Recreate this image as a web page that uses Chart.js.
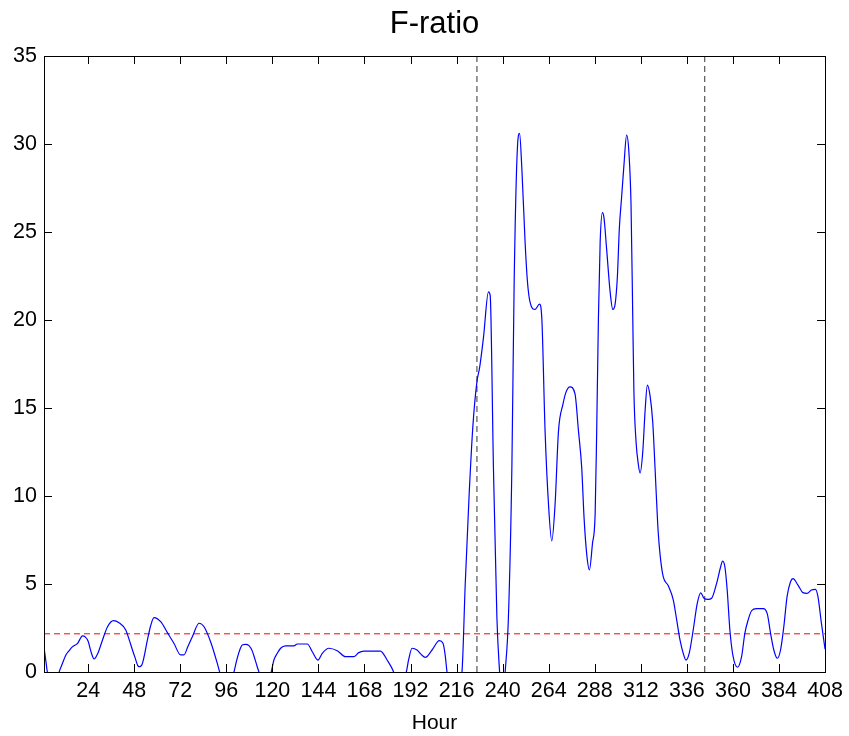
<!DOCTYPE html>
<html>
<head>
<meta charset="utf-8">
<title>F-ratio</title>
<script src="https://cdn.jsdelivr.net/npm/chart.js@4.4.0/dist/chart.umd.min.js"></script>
<style>
  html, body { margin: 0; padding: 0; background: #fff; }
  #wrap { width: 849px; height: 736px; }
</style>
</head>
<body>
<div id="wrap"><canvas id="fChart" width="849" height="736"></canvas></div>
<script>
// Hora (eje x) y valor F
const hours = [
    1, 2, 3, 6, 8.9, 10.5, 12.4, 14, 15.9, 18.5, 21.1, 22.4, 24, 25.5, 27.1, 29, 31.5, 34.1, 37.2, 40.1,
    43.6, 45.5, 47.1, 48.5, 50, 51, 52.3, 54.9, 56.5, 58.3, 61.8, 65.3, 68.7, 72.2, 73.9, 76, 78.3, 81.8, 84.4, 87.8,
    91.3, 92.5, 95, 98, 100, 101.5, 103.4, 104.5, 106, 107.8, 109.5, 111, 112.1, 113, 115.5, 118, 119.4, 120.8, 122.5, 124.3,
    126.9, 131.2, 133, 138.2, 140.8, 143.7, 146, 149.4, 153.8, 158.1, 162.4, 165, 167.6, 176.3, 179.8, 183.2, 186, 189.8, 191, 192.8,
    195.4, 197.5, 199.7, 203.2, 207, 208.9, 210, 211, 214, 218.8, 220.5, 222.5, 224.5, 226.6, 228, 230, 232.6, 233.5, 235.2, 237,
    238.4, 239.8, 241.3, 243, 244.8, 246, 247.7, 248.8, 250, 251.7, 252.9, 254.3, 256.9, 259.2, 260.4, 262.1, 263.9, 265.6, 267.3, 269.1,
    271.4, 273, 275.1, 277.7, 279.5, 281.2, 282.4, 283.8, 285.2, 286.8, 288.2, 289, 289.9, 290.8, 292, 292.8, 294.2, 296, 297.4, 298.6,
    299.8, 300.8, 302, 303.2, 304.6, 305.8, 306.9, 307.8, 308.4, 309.5, 310.7, 311.6, 313, 314.2, 315.4, 316.8, 318.2, 319.4, 320.8, 322,
    323.7, 326.3, 328.9, 330.7, 332.4, 334.1, 335.5, 337.2, 339.3, 341.4, 343.2, 344.9, 347.1, 348.9, 351.5, 353.6, 354.6, 355.8, 357, 358.4,
    360.1, 362.4, 364.5, 366.2, 367.9, 369.7, 372.3, 375.8, 377.9, 379.6, 381.3, 383.1, 384.8, 386.5, 388.2, 390, 391.3, 393.9, 396.5, 398.6,
    400.9, 403, 404.3, 406.1, 408
];
const fRatio = [
    1.4, 0.6, -0.2, -1.5, 0, 0.45, 0.97, 1.2, 1.44, 1.63, 2.05, 2.0, 1.75, 1.15, 0.74, 1.05, 1.82, 2.57, 2.92, 2.8,
    2.39, 1.8, 1.25, 0.8, 0.34, 0.3, 0.49, 1.82, 2.6, 3.09, 2.86, 2.24, 1.63, 0.97, 0.97, 1.45, 2.0, 2.77, 2.57, 1.72,
    0.49, 0, -1.2, -0.8, 0, 0.7, 1.36, 1.55, 1.57, 1.5, 1.2, 0.7, 0.3, 0, -1, -0.5, 0, 0.68, 1.05, 1.35,
    1.48, 1.49, 1.59, 1.59, 1.15, 0.68, 1.06, 1.35, 1.21, 0.87, 0.87, 1.1, 1.19, 1.19, 0.68, 0, -1, 0, 0.7, 1.35,
    1.25, 1.0, 0.83, 1.25, 1.78, 1.63, 1.0, 0, -2, 0, 5, 10, 14, 16.5, 17.3, 19.0, 21.6, 21.4, 11.6, 3.1,
    0, -2, 0, 3.1, 11.6, 22.2, 29.8, 30.6, 28.6, 24.4, 22.2, 21.0, 20.6, 20.9, 20.1, 13.7, 9.5, 7.45, 9.5, 13.7,
    15.2, 15.9, 16.2, 15.8, 13.7, 11.6, 8.8, 6.7, 5.8, 7.3, 9.0, 13.7, 20.1, 24.4, 26.1, 25.8, 24.0, 21.6, 20.6, 20.9,
    22.5, 25.2, 27.0, 28.8, 30.5, 29.5, 26.5, 20.1, 15.9, 13.1, 11.8, 11.3, 12.5, 14.8, 16.3, 15.7, 14.2, 11.6, 8.4, 6.7,
    5.4, 4.9, 4.1, 2.95, 1.82, 1.06, 0.68, 1.06, 2.39, 3.9, 4.5, 4.19, 4.13, 4.19, 5.04, 5.98, 6.3, 5.98, 4.66, 2.39,
    0.87, 0.27, 0.87, 2.2, 2.95, 3.48, 3.6, 3.6, 3.3, 2.2, 1.25, 0.78, 1.25, 2.57, 4.28, 5.13, 5.3, 4.94, 4.51, 4.47,
    4.66, 4.70, 4.28, 2.77, 1.3
];
const fCritical = 2.17;
const markerHours = [226.6, 345.3];
const xTicks = [24, 48, 72, 96, 120, 144, 168, 192, 216, 240, 264, 288, 312, 336, 360, 384, 408];
const yTicks = [0, 5, 10, 15, 20, 25, 30, 35];
const xRange = [1, 408];
const yRange = [0, 35];

const FONT = "'Liberation Sans', Arial, Helvetica, sans-serif";

// marco y marcas hacia dentro, estilo MATLAB
const boxTicks = {
    id: 'boxTicks',
    afterDatasetsDraw(chart) {
        const { ctx, chartArea: a, scales } = chart;
        const len = 8;
        ctx.save();
        ctx.strokeStyle = '#000';
        ctx.lineWidth = 1;
        ctx.beginPath();
        xTicks.forEach(v => {
            const px = Math.round(scales.x.getPixelForValue(v)) + 0.5;
            ctx.moveTo(px, a.bottom); ctx.lineTo(px, a.bottom - len);
            ctx.moveTo(px, a.top); ctx.lineTo(px, a.top + len);
        });
        yTicks.forEach(v => {
            const py = Math.round(scales.y.getPixelForValue(v)) + 0.5;
            ctx.moveTo(a.left, py); ctx.lineTo(a.left + len, py);
            ctx.moveTo(a.right, py); ctx.lineTo(a.right - len, py);
        });
        ctx.stroke();
        ctx.strokeRect(Math.round(a.left) + 0.5, Math.round(a.top) + 0.5,
            Math.round(a.right - a.left), Math.round(a.bottom - a.top));
        ctx.restore();
    }
};

function buildDatasets() {
    const curve = hours.map((h, i) => ({ x: h, y: fRatio[i] }));
    const sets = [{
        label: 'F-ratio',
        data: curve,
        borderColor: '#0000ff',
        borderWidth: 1.2,
        pointRadius: 0,
        cubicInterpolationMode: 'monotone',
        fill: false
    }, {
        label: 'F critico',
        data: [{ x: xRange[0], y: fCritical }, { x: xRange[1], y: fCritical }],
        borderColor: '#ff0000',
        borderWidth: 1,
        borderDash: [6, 4],
        pointRadius: 0
    }];
    markerHours.forEach(h => {
        sets.push({
            label: 'marca ' + h,
            data: [{ x: h, y: yRange[0] }, { x: h, y: yRange[1] }],
            borderColor: '#333',
            borderWidth: 1,
            borderDash: [6, 4],
            pointRadius: 0
        });
    });
    return sets;
}

const chart = new Chart(document.getElementById('fChart').getContext('2d'), {
    type: 'line',
    data: { datasets: buildDatasets() },
    plugins: [boxTicks],
    options: {
        responsive: false,
        animation: false,
        layout: { padding: { left: 0, right: 23, top: 0, bottom: 0 } },
        plugins: {
            legend: { display: false },
            tooltip: { enabled: false },
            title: {
                display: true,
                text: 'F-ratio',
                fullSize: false,
                color: '#000',
                font: { family: FONT, size: 31, weight: 'normal' },
                padding: { top: 6, bottom: 12.8 }
            }
        },
        scales: {
            x: {
                type: 'linear',
                min: xRange[0],
                max: xRange[1],
                afterBuildTicks: s => { s.ticks = xTicks.map(v => ({ value: v })); },
                afterFit: s => { s.height = 64; },
                grid: { display: false, drawTicks: false },
                border: { display: false },
                ticks: { color: '#000', padding: 6, maxRotation: 0, autoSkip: false,
                    font: { family: FONT, size: 21.5 } },
                title: { display: true, text: 'Hour', color: '#000', padding: { top: 3, bottom: 0 },
                    font: { family: FONT, size: 21 } }
            },
            y: {
                min: yRange[0],
                max: yRange[1],
                afterBuildTicks: s => { s.ticks = yTicks.map(v => ({ value: v })); },
                afterFit: s => { s.width = 44; },
                grid: { display: false, drawTicks: false },
                border: { display: false },
                ticks: { color: '#000', padding: 7, font: { family: FONT, size: 21.5 } }
            }
        }
    }
});
</script>
</body>
</html>
